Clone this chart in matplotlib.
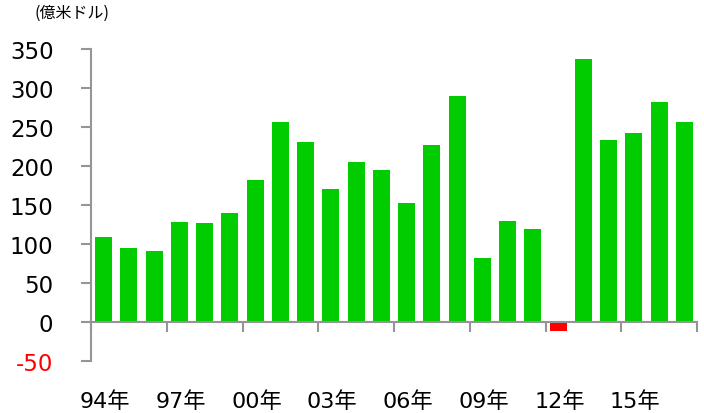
import matplotlib
matplotlib.use("Agg")
import matplotlib.pyplot as plt
from matplotlib.ticker import FixedLocator
import matplotlib.transforms as mtransforms

plt.rcParams['font.family'] = ['DejaVu Sans', 'Noto Sans CJK JP']

years = ["94", "95", "96", "97", "98", "99", "00", "01", "02", "03", "04", "05",
         "06", "07", "08", "09", "10", "11", "12", "13", "14", "15", "16", "17"]
values = [109, 95, 91, 128, 127, 140, 182, 256, 231, 170, 205, 195,
          153, 227, 290, 82, 129, 119, -12, 337, 233, 242, 282, 256]
yticks = [-50, 0, 50, 100, 150, 200, 250, 300, 350]
unit_label = "(億米ドル)"

fig = plt.figure(figsize=(7.04, 4.14), dpi=100)
ax = fig.add_axes([91/704, 52/414, (697-91)/704, (362-50)/414])

x = list(range(len(values)))
colors = ['#00CC00' if v >= 0 else '#FF0000' for v in values]
ax.bar(x, values, width=0.68, color=colors, edgecolor='none', zorder=2)

ax.set_xlim(-0.5, len(values) - 0.5)
ax.set_ylim(-50, 350)

axis_color = '#959595'
for s in ['top', 'right']:
    ax.spines[s].set_visible(False)
ax.spines['left'].set_color(axis_color)
ax.spines['left'].set_linewidth(1.5)
ax.spines['bottom'].set_color(axis_color)
ax.spines['bottom'].set_linewidth(1.5)
ax.spines['bottom'].set_position(('data', 0))
ax.spines['bottom'].set_zorder(3)

ax.set_yticks(yticks)
ax.set_yticklabels([str(t) for t in yticks], fontsize=16.5)
for lbl, t in zip(ax.get_yticklabels(), yticks):
    if t < 0:
        lbl.set_color('#FF0000')
ax.tick_params(axis='y', length=7, width=1.5, color=axis_color, pad=20)

# x axis: tick marks at category boundaries every 3 bars
ax.xaxis.set_major_locator(FixedLocator([i - 0.5 for i in range(0, len(values) + 1, 3)]))
ax.set_xticklabels([])
ax.tick_params(axis='x', direction='out', length=7, width=1.5, color=axis_color)

trans = mtransforms.blended_transform_factory(ax.transData, fig.transFigure)
for i in range(0, len(values), 3):
    ax.text(i + 0.05, 12/414, years[i] + "年", transform=trans, ha='center', va='center',
            fontsize=16, family=['DejaVu Sans', 'Noto Sans CJK JP'])

fig.text(35/704, 1 - 13/414, unit_label, ha='left', va='center', fontsize=11.5,
         family=['Noto Sans CJK JP', 'DejaVu Sans'])

fig.savefig("out.png", dpi=100)
